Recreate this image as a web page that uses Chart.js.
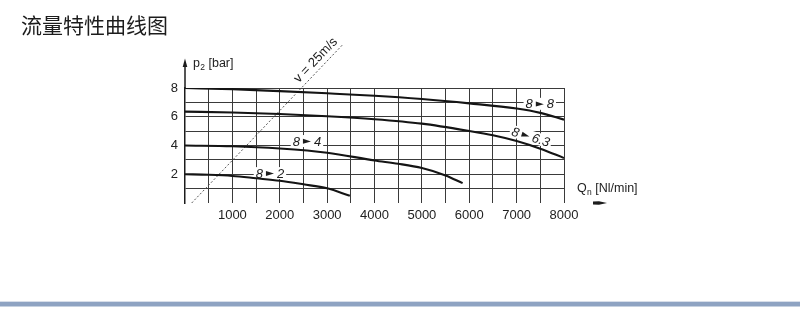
<!DOCTYPE html>
<html>
<head>
<meta charset="utf-8">
<script src="https://cdn.jsdelivr.net/npm/chart.js@4/dist/chart.umd.min.js"></script>
<style>
html,body{margin:0;padding:0;background:#fff;}
canvas{display:block;}
</style>
</head>
<body>
<canvas id="c" width="800" height="313"></canvas>
<script>
// ---- data ----
const chartTitle = "流量特性曲线图";
const yTitle = ["p", "2", " [bar]"];
const xTitle = ["Q", "n", " [Nl/min]"];

const xTickValues = [500,1000,1500,2000,2500,3000,3500,4000,4500,5000,5500,6000,6500,7000,7500,8000];
const yTickValues = [1,2,3,4,5,6,7,8];

const curve88X  = [0,1000,2000,3000,4000,5000,6000,7000,7500,8000];
const curve88Y  = [8.0,7.92,7.78,7.63,7.46,7.23,6.93,6.57,6.27,5.80];

const curve863X = [0,1000,2000,3000,4000,5000,6000,6500,7000,7500,8000];
const curve863Y = [6.36,6.30,6.19,6.04,5.83,5.52,5.01,4.71,4.31,3.78,3.13];

const curve84X  = [0,1000,2000,3000,4000,4500,5000,5500,5860];
const curve84Y  = [4.0,3.95,3.79,3.50,2.96,2.73,2.43,1.92,1.38];

const curve82X  = [0,500,1000,1500,2000,2500,3000,3480];
const curve82Y  = [2.0,1.96,1.88,1.72,1.55,1.30,1.02,0.50];

const velocityX = [141,3333];
const velocityY = [0,11.03];

const curveLabelText = ["8 ► 8","8 ► 6.3","8 ► 4","8 ► 2"];
const curveLabelX    = [7489,7300,2574,1793];
const curveLabelY    = [6.90,4.62,4.31,2.08];
const velocityLabel  = "v = 25m/s";
const velocityLabelX = 2760;
const velocityLabelY = 9.93;

function pts(xs, ys){ return xs.map((x,i)=>({x:x, y:ys[i]})); }

const curveStyle = {borderColor:'#141414', borderWidth:2.1, pointRadius:0, fill:false, cubicInterpolationMode:'monotone'};

function drawLabel(ctx, text, px, py, rot){
  const parts = text.split(' ► ');
  ctx.save();
  ctx.translate(px, py);
  ctx.rotate(rot);
  ctx.font = 'italic 13px "Liberation Sans"';
  const w0 = ctx.measureText(parts[0]).width;
  const w1 = ctx.measureText(parts[1]).width;
  const gap = 3, tri = 8;
  const total = w0 + gap + tri + gap + w1;
  let x = -total/2;
  ctx.fillStyle = '#fff';
  ctx.fillRect(x - 2, -6, total + 4, 12);
  ctx.fillStyle = '#1c1c1c';
  ctx.textAlign = 'left';
  ctx.textBaseline = 'middle';
  ctx.fillText(parts[0], x, 1);
  x += w0 + gap;
  // the "►" glyph of the label
  ctx.beginPath();
  ctx.moveTo(x, -2.2);
  ctx.lineTo(x + tri, 0.4);
  ctx.lineTo(x, 2.8);
  ctx.closePath();
  ctx.fill();
  x += tri + gap;
  ctx.fillText(parts[1], x, 1);
  ctx.restore();
}

const overlay = {
  id:'overlay',
  beforeDraw(chart){
    const ctx = chart.ctx;
    ctx.save();
    ctx.fillStyle = '#fff';
    ctx.fillRect(0,0,chart.width,chart.height);
    ctx.restore();
  },
  beforeDatasetsDraw(chart){
    const ctx = chart.ctx;
    const xs = chart.scales.x, ys = chart.scales.y;
    const rots = [0, 0.3, 0, 0];
    curveLabelText.forEach((t,i)=>{
      drawLabel(ctx, t, xs.getPixelForValue(curveLabelX[i]), ys.getPixelForValue(curveLabelY[i]), rots[i]);
    });
  },
  afterDraw(chart){
    const ctx = chart.ctx;
    const xs = chart.scales.x, ys = chart.scales.y;
    const ca = chart.chartArea;
    ctx.save();
    // title
    ctx.fillStyle = '#1c1c1c';
    ctx.font = '21px "Noto Sans CJK SC"';
    ctx.textBaseline = 'alphabetic';
    ctx.textAlign = 'left';
    ctx.fillText(chartTitle, 21, 33);

    // y axis arrow extension
    const ax = Math.round(ca.left);
    ctx.strokeStyle = '#1c1c1c';
    ctx.lineWidth = 1.5;
    ctx.beginPath();
    ctx.moveTo(ax, ca.top + 1);
    ctx.lineTo(ax, 64);
    ctx.stroke();
    ctx.fillStyle = '#1c1c1c';
    ctx.beginPath();
    ctx.moveTo(ax, 58.5);
    ctx.lineTo(ax - 2.3, 67);
    ctx.lineTo(ax + 2.3, 67);
    ctx.closePath();
    ctx.fill();

    // y title
    ctx.fillStyle = '#222';
    ctx.textAlign = 'left';
    ctx.textBaseline = 'alphabetic';
    ctx.font = '12.5px "Liberation Sans"';
    let tx = 193;
    ctx.fillText(yTitle[0], tx, 67); tx += ctx.measureText(yTitle[0]).width;
    ctx.font = '8.5px "Liberation Sans"';
    ctx.fillText(yTitle[1], tx + 0.3, 70); tx += ctx.measureText(yTitle[1]).width + 0.3;
    ctx.font = '12.5px "Liberation Sans"';
    ctx.fillText(yTitle[2], tx, 67);

    // x title
    tx = 577;
    ctx.font = '12.5px "Liberation Sans"';
    ctx.fillText(xTitle[0], tx, 192); tx += ctx.measureText(xTitle[0]).width;
    ctx.font = '8.5px "Liberation Sans"';
    ctx.fillText(xTitle[1], tx + 0.3, 195); tx += ctx.measureText(xTitle[1]).width + 0.3;
    ctx.font = '12.5px "Liberation Sans"';
    ctx.fillText(xTitle[2], tx, 192);

    // x arrow
    ctx.fillStyle = '#1c1c1c';
    ctx.beginPath();
    ctx.moveTo(593, 201.6);
    ctx.lineTo(599, 201.2);
    ctx.lineTo(607, 203);
    ctx.lineTo(599, 204.8);
    ctx.lineTo(593, 204.4);
    ctx.closePath();
    ctx.fill();

    // velocity label
    {
      const px = xs.getPixelForValue(velocityLabelX);
      const py = ys.getPixelForValue(velocityLabelY);
      ctx.save();
      ctx.translate(px, py);
      ctx.rotate(-46.3*Math.PI/180);
      ctx.font = '13px "Liberation Sans"';
      ctx.textAlign = 'center';
      ctx.textBaseline = 'middle';
      ctx.fillStyle = '#222';
      ctx.fillText(velocityLabel, 0, 0);
      ctx.restore();
    }

    // bottom bar
    ctx.fillStyle = '#d7dee9';
    ctx.fillRect(0, 301, chart.width, 1);
    ctx.fillStyle = '#8ea3c2';
    ctx.fillRect(0, 302, chart.width, 4.5);
    ctx.restore();
  }
};

new Chart(document.getElementById('c'), {
  type:'line',
  data:{
    datasets:[
      Object.assign({label:'8-8', data:pts(curve88X, curve88Y)}, curveStyle),
      Object.assign({label:'8-6.3', data:pts(curve863X, curve863Y)}, curveStyle),
      Object.assign({label:'8-4', data:pts(curve84X, curve84Y)}, curveStyle),
      Object.assign({label:'8-2', data:pts(curve82X, curve82Y)}, curveStyle),
      {label:'v=25m/s', data:pts(velocityX, velocityY), borderColor:'#555', borderWidth:1,
       borderDash:[2,2], pointRadius:0, fill:false, clip:false, tension:0}
    ]
  },
  options:{
    responsive:false,
    animation:false,
    devicePixelRatio:1,
    layout:{padding:{left:0, top:88, right:236, bottom:80}},
    plugins:{legend:{display:false}, tooltip:{enabled:false}, title:{display:false}},
    scales:{
      x:{
        type:'linear', min:0, max:8000,
        afterBuildTicks(s){ s.ticks = xTickValues.map(v=>({value:v})); },
        afterFit(s){ s.height = 30; },
        grid:{color:'#3a3a3a', lineWidth:1, drawTicks:false},
        border:{display:false},
        ticks:{autoSkip:false, maxRotation:0, padding:5, color:'#222',
               font:{family:'"Liberation Sans"', size:13},
               callback:(v)=> (v % 1000 === 0 ? String(v) : '')}
      },
      y:{
        type:'linear', min:0, max:8,
        afterBuildTicks(s){ s.ticks = yTickValues.map(v=>({value:v})); },
        afterFit(s){ s.width = 185; },
        grid:{color:'#3a3a3a', lineWidth:1, drawTicks:false},
        border:{display:true, color:'#1c1c1c', width:1.5},
        ticks:{autoSkip:false, padding:7, color:'#222',
               font:{family:'"Liberation Sans"', size:13},
               callback:(v)=> (v % 2 === 0 ? String(v) : '')}
      }
    }
  },
  plugins:[overlay]
});
</script>
</body>
</html>
